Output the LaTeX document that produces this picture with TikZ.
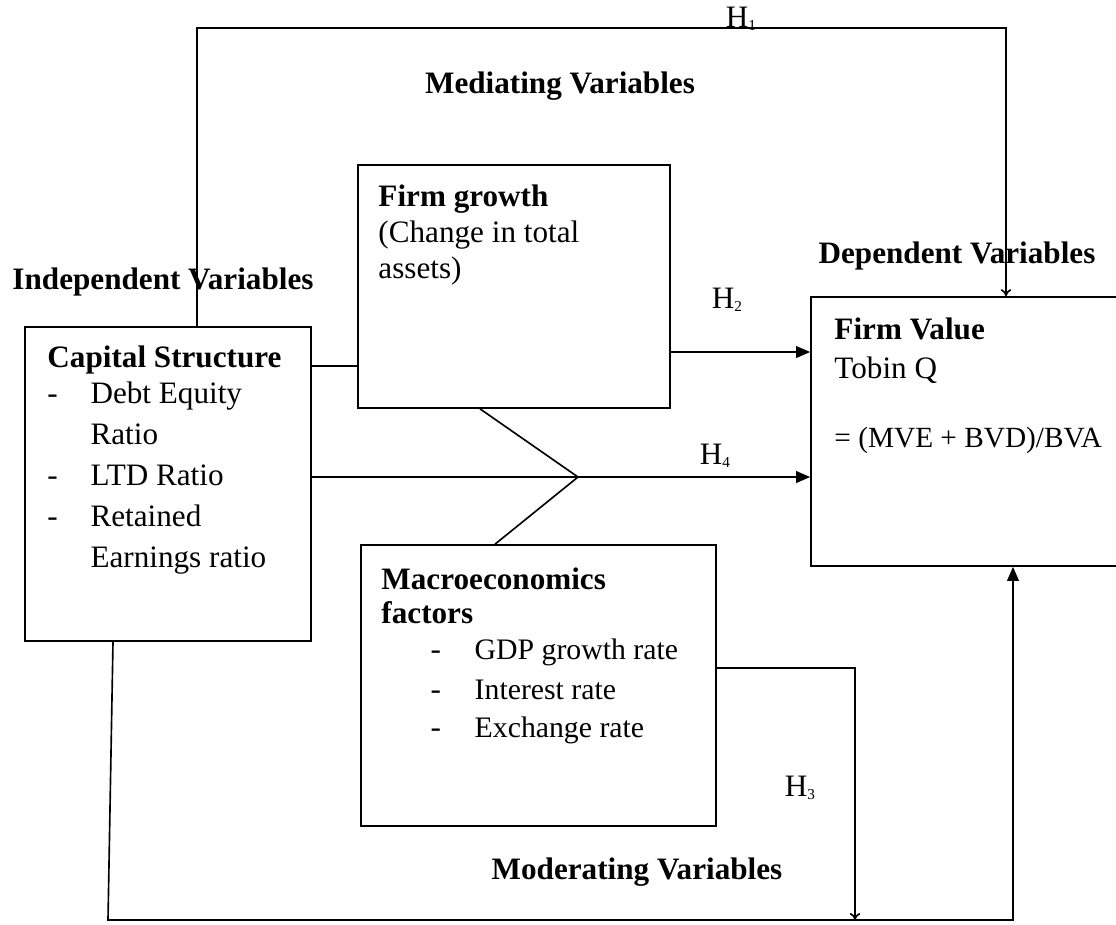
\documentclass[tikz,border=0pt]{standalone}
\usepackage{fontspec}
\setmainfont{Liberation Serif}
\usetikzlibrary{calc}
\usetikzlibrary{arrows.meta}
\usetikzlibrary{positioning}

\tikzset{
 box/.style={draw=black, line width=0.7pt, rectangle, inner sep=0pt},
 txt/.style={inner sep=0pt, align=left, font=\fontsize{13.3}{17.5}\selectfont},
 hd/.style={inner sep=0pt, font=\fontsize{13.3}{16}\selectfont\bfseries},
 hyp/.style={inner sep=0pt, font=\fontsize{13.3}{16}\selectfont},
 ln/.style={black, line width=0.7pt},
 arr/.style={ln, -{Triangle[length=6pt,width=5pt]}},
 barb/.style={ln, -{To[length=3pt,width=4.5pt]}},
}
\newcommand{\itm}[1]{\makebox[18.4pt][l]{-}#1}
\newcommand{\mitm}[1]{\hspace*{21pt}\makebox[18.8pt][l]{-}{\fontsize{12.7}{15}\selectfont#1}}
\newcommand{\hsub}[1]{H\raisebox{-1.5pt}{\fontsize{6.5}{7}\selectfont#1}}

\begin{document}
\begin{tikzpicture}[x=0.015cm, y=-0.015cm]
\useasboundingbox (0,0) rectangle (1116,924);
\clip (0,0) rectangle (1116,924);

\node[box, minimum width=4.29cm, minimum height=4.71cm] (cap) at (168,484) {};
\node[box, minimum width=4.68cm, minimum height=3.645cm] (growth) at (514,286.5) {};
\node[box, minimum width=4.635cm, minimum height=4.035cm] (value) at (965.5,431.5) {};
\node[box, minimum width=5.325cm, minimum height=4.215cm] (macro) at (538.5,685.5) {};

\node[txt, anchor=north west] (captext) at (47,345) {\textbf{Capital Structure}\\[-2pt]
 \itm{Debt Equity}\\ \hspace*{18.4pt}Ratio\\ \itm{LTD Ratio}\\ \itm{Retained}\\
 \hspace*{18.4pt}Earnings ratio};
\node[txt, anchor=north west, font=\fontsize{13.3}{15.4}\selectfont] (growthtext) at (378,184)
 {\textbf{Firm growth}\\ (Change in total\\ assets)};
\node[txt, anchor=north west, font=\fontsize{13.3}{16.7}\selectfont] (valuetext) at (834,317)
 {\textbf{Firm Value}\\ Tobin Q\\[12.8pt] {\fontsize{12.5}{15}\selectfont = (MVE + BVD)/BVA}};
\node[txt, anchor=north west, font=\fontsize{13.3}{15.5}\selectfont] (macrotext) at (381,567)
 {\textbf{Macroeconomics}\\[-1pt] \textbf{factors}\\ \mitm{GDP growth rate}\\[1.5pt]
 \mitm{Interest rate}\\[1pt] \mitm{Exchange rate}};

\node[hd] (indep) at (163,282) {Independent Variables};
\node[hd] (dep) at (957,256) {Dependent Variables};
\node[hd] (med) at (560,86) {Mediating Variables};
\node[hd] (mod) at (637,872) {Moderating Variables};

\node[hyp] (h1) at (741,19) {\hsub{1}};
\node[hyp] (h2) at (727,300) {\hsub{2}};
\node[hyp] (h4) at (715,456) {\hsub{4}};
\node[hyp] (h3) at (800,788) {\hsub{3}};

\coordinate (join) at (578,477);
\coordinate (h3end) at (855,920);

\draw[barb] (cap.north -| 197,0) |- (1006,28) -- (value.north -| 1006,0);
\draw[ln] (cap.east |- 0,366) -- (growth.west |- 0,366);
\draw[arr] (growth.east |- 0,352) -- (value.west |- 0,352);
\draw[arr] (cap.east |- 0,477) -- (value.west |- 0,477);
\draw[ln] (growth.south -| 480,0) -- (join) -- (macro.north -| 495,0);
\draw[barb] (macro.east |- 0,668) -| (h3end);
\draw[arr] (cap.south -| 113,0) -- (108,920) -| (value.south -| 1013,0);
\end{tikzpicture}
\end{document}
